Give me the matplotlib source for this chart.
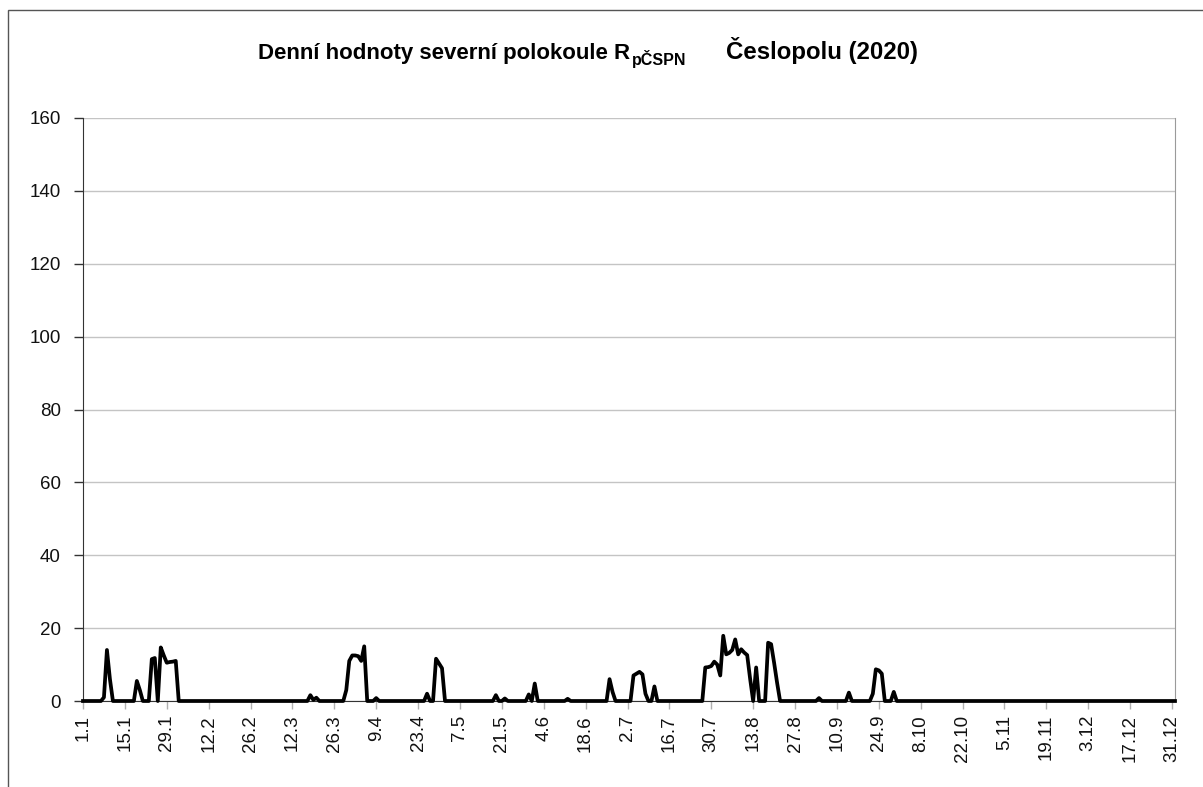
import numpy as np
import matplotlib
matplotlib.use("Agg")
import matplotlib.pyplot as plt
from matplotlib.patches import Rectangle


N_DAYS = 366  # 2020

# days (0 = 1.1.) with a non-zero value, and the values
SPOT_DAYS = [
    7, 8, 9,
    18, 19,
    23, 24, 26, 27, 28, 29, 30, 31,
    76, 77, 78,
    88, 89, 90, 91, 92, 93, 94,
    98,
    115, 118, 119, 120,
    138, 141,
    149, 151,
    162,
    176, 177,
    184, 185, 186, 187, 188,
    191,
    208, 209, 210, 211, 212, 213, 214, 215, 216, 217, 218, 219, 220, 221, 222, 223,
    225,
    229, 230, 231, 232,
    246,
    256,
    264, 265, 266, 267,
    271,
]
SPOT_VALUES = [
    1, 14, 6,
    5.5, 3,
    11.5, 11.8, 14.7, 12.5, 10.5, 10.7, 10.8, 11,
    1.6, 0.3, 0.9,
    3, 11, 12.5, 12.5, 12.3, 11, 15,
    0.8,
    2, 11.6, 10.3, 9,
    1.6, 0.7,
    1.8, 4.8,
    0.6,
    6, 2.5,
    7, 7.5, 8, 7.3, 2,
    4,
    9.2, 9.3, 9.6, 10.8, 10, 7, 17.9, 12.8, 13.2, 14, 16.9, 12.8, 14.2, 13.3, 12.6, 6,
    9.2,
    16, 15.6, 10.5, 5,
    0.8,
    2.3,
    2, 8.7, 8.4, 7.5,
    2.5,
]

TICK_DAYS = list(range(0, 365, 14))
TICK_LABELS = ["1.1", "15.1", "29.1", "12.2", "26.2", "12.3", "26.3", "9.4", "23.4",
               "7.5", "21.5", "4.6", "18.6", "2.7", "16.7", "30.7", "13.8", "27.8",
               "10.9", "24.9", "8.10", "22.10", "5.11", "19.11", "3.12", "17.12", "31.12"]
Y_TICKS = list(range(0, 161, 20))

TITLE_MAIN = "Denní hodnoty severní polokoule R"
TITLE_SUB = "pČSPN"
TITLE_END = "Česlopolu (2020)"


def build_series():
    values = np.zeros(N_DAYS)
    values[SPOT_DAYS] = SPOT_VALUES
    return np.arange(N_DAYS), values


def main():
    plt.rcParams["font.family"] = ["Liberation Sans", "DejaVu Sans"]

    W, H = 1203, 787
    fig = plt.figure(figsize=(W / 100, H / 100), dpi=100)
    ax = fig.add_axes([83 / W, 1 - 701 / H, (1175 - 83) / W, (701 - 118) / H])

    days, values = build_series()
    ax.plot(days, values, color="black", lw=2.7, solid_joinstyle="round", zorder=3,
            clip_on=False)

    ax.set_xlim(0, N_DAYS - 1)
    ax.set_ylim(0, 160)
    ax.set_yticks(Y_TICKS)
    ax.set_xticks(TICK_DAYS)
    ax.set_xticklabels(TICK_LABELS, rotation=90, va="top", ha="center")

    ax.grid(axis="y", color="#c4c4c4", lw=1)
    ax.set_axisbelow(True)
    ax.tick_params(axis="y", length=6.5, width=1, color="#333333", pad=9.5,
                   labelsize=13.5, labelcolor="#111111")
    ax.tick_params(axis="x", length=6, width=1, color="#b0b0b0", pad=4,
                   labelsize=13.5, labelcolor="#111111")

    ax.spines["top"].set_visible(False)
    ax.spines["left"].set_color("#333333")
    ax.spines["right"].set_color("#9a9a9a")
    ax.spines["bottom"].set_color("#333333")

    # title with subscript, chained piece by piece
    t1 = fig.text(258 / W, 1 - 64 / H, TITLE_MAIN, fontsize=16, fontweight="bold",
                  ha="left", va="bottom")
    t2 = ax.annotate(TITLE_SUB, xy=(1, 0), xycoords=t1, xytext=(1, -3),
                     textcoords="offset points", fontsize=11.5, fontweight="bold",
                     ha="left", va="bottom", annotation_clip=False)
    ax.annotate(TITLE_END, xy=(1, 0), xycoords=(t2, t1), xytext=(29, 0),
                textcoords="offset points", fontsize=17.3, fontweight="bold",
                ha="left", va="bottom", annotation_clip=False)

    # chart area border (cut off at right and bottom of the picture)
    top = 1 - 10 / H
    fig.patches.append(Rectangle((8 / W, -0.1), 1.2, top + 0.1,
                                 transform=fig.transFigure, fill=False,
                                 edgecolor="#555555", lw=1))

    fig.savefig("out.png", dpi=100, facecolor="white")
    plt.close(fig)


if __name__ == "__main__":
    main()
